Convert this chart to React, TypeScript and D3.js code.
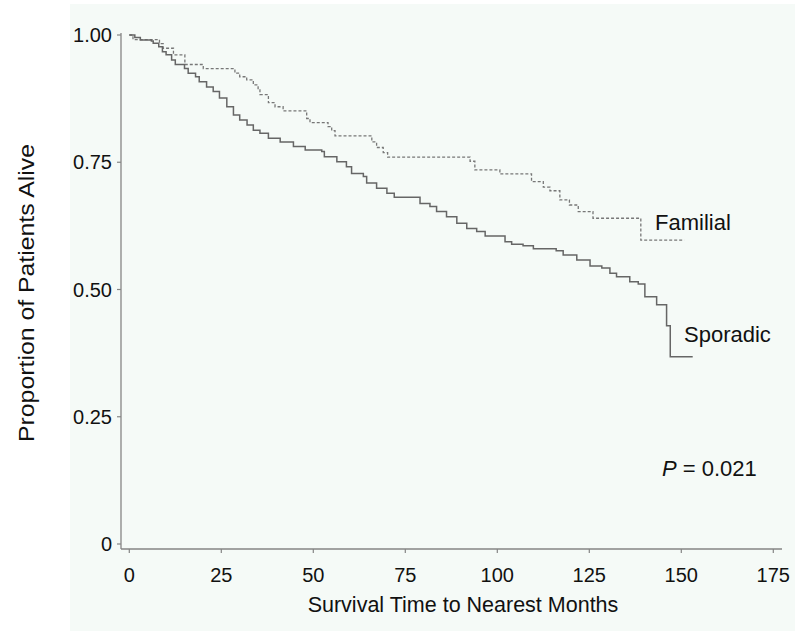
import React from "react";
import * as d3 from "d3";

// Kaplan-Meier steps (months, proportion alive)
const sporadicTimes = [0, 1.5, 3, 6, 6.5, 8, 9, 10, 11.5, 12.5, 15, 16, 18, 19, 21, 22.8, 24.5, 26.5, 28.3, 30, 32, 33.7, 35.5, 37.8, 41, 44.6, 47.8, 52.3, 53, 56.4, 59, 60.4, 63.6, 64.5, 67.2, 70, 72, 79, 81.7, 83.5, 86.2, 89, 91.7, 94.4, 96.7, 102.1, 103.9, 107, 109.8, 116, 117.9, 121.6, 125.2, 128.4, 130.6, 132.4, 136, 138.3, 140.1, 143.3, 146, 147, 153.1];
const sporadicSurv = [1.0, 0.995, 0.99, 0.988, 0.984, 0.977, 0.967, 0.961, 0.951, 0.942, 0.934, 0.925, 0.918, 0.908, 0.898, 0.889, 0.876, 0.859, 0.843, 0.833, 0.823, 0.813, 0.807, 0.797, 0.79, 0.781, 0.774, 0.771, 0.761, 0.751, 0.741, 0.728, 0.722, 0.709, 0.699, 0.689, 0.681, 0.669, 0.663, 0.653, 0.643, 0.63, 0.62, 0.614, 0.605, 0.594, 0.589, 0.586, 0.58, 0.576, 0.568, 0.558, 0.546, 0.542, 0.532, 0.525, 0.515, 0.511, 0.486, 0.47, 0.429, 0.368, 0.368];

const familialTimes = [0, 1, 8.2, 9.2, 12, 15.1, 20.1, 28.7, 30, 31.9, 33.7, 35, 35.5, 37.8, 39.6, 41.8, 48.2, 49.1, 54, 55, 55.9, 65.9, 67.2, 69, 70.2, 92.6, 93.9, 100.7, 109.3, 112.5, 114.3, 117, 119.6, 122, 126, 139, 150.8];
const familialSurv = [1.0, 0.991, 0.983, 0.974, 0.961, 0.942, 0.934, 0.925, 0.918, 0.912, 0.902, 0.892, 0.883, 0.867, 0.859, 0.851, 0.836, 0.828, 0.82, 0.812, 0.802, 0.79, 0.779, 0.769, 0.76, 0.752, 0.735, 0.727, 0.712, 0.701, 0.694, 0.676, 0.666, 0.653, 0.64, 0.597, 0.597];

const xTicks = [0, 25, 50, 75, 100, 125, 150, 175];
const yTicks = [0, 0.25, 0.5, 0.75, 1];
const yTickLabels = ["0", "0.25", "0.50", "0.75", "1.00"];

const font = "'Liberation Sans', Arial, sans-serif";
const axisColor = "#858585";

export default function App() {
  const x = d3.scaleLinear().domain([0, 175]).range([129.3, 773.3]);
  const y = d3.scaleLinear().domain([0, 1]).range([544, 35]);

  const axisX = 121;
  const axisY = 549;

  const line = d3.line<[number, number]>()
    .x(d => x(d[0]))
    .y(d => y(d[1]))
    .curve(d3.curveStepAfter);

  const sporadic = sporadicTimes.map((t, i) => [t, sporadicSurv[i]] as [number, number]);
  const familial = familialTimes.map((t, i) => [t, familialSurv[i]] as [number, number]);

  return (
    <svg width={800} height={631} style={{ position: "absolute", left: 0, top: 0 }} fontFamily={font}>
      <rect x={0} y={0} width={800} height={631} fill="#ffffff" />
      <rect x={70} y={4} width={725} height={627} fill="#f5faf7" />

      {/* axes */}
      <line x1={axisX} x2={axisX} y1={33} y2={axisY} stroke={axisColor} strokeWidth={1.3} />
      <line x1={axisX} x2={782} y1={axisY} y2={axisY} stroke={axisColor} strokeWidth={1.3} />

      {yTicks.map((v, i) => (
        <g key={"y" + v}>
          <line x1={axisX - 4} x2={axisX} y1={y(v)} y2={y(v)} stroke={axisColor} strokeWidth={1.2} />
          <text x={112} y={y(v) + 7} textAnchor="end" fontSize={20} fill="#111">{yTickLabels[i]}</text>
        </g>
      ))}
      {xTicks.map(v => (
        <g key={"x" + v}>
          <line x1={x(v)} x2={x(v)} y1={axisY} y2={axisY + 4} stroke={axisColor} strokeWidth={1.2} />
          <text x={x(v)} y={582} textAnchor="middle" fontSize={20} fill="#111">{v}</text>
        </g>
      ))}

      <text x={463} y={612} textAnchor="middle" fontSize={21.5} fill="#111">Survival Time to Nearest Months</text>
      <text transform="translate(34,293) rotate(-90)" textAnchor="middle" fontSize={22}
        textLength={298} lengthAdjust="spacingAndGlyphs" fill="#111">Proportion of Patients Alive</text>

      {/* curves */}
      <path d={line(familial) ?? ""} fill="none" stroke="#777" strokeWidth={1.3} strokeDasharray="3,2" />
      <path d={line(sporadic) ?? ""} fill="none" stroke="#666" strokeWidth={1.5} />

      <text x={655} y={230} fontSize={22} fill="#111">Familial</text>
      <text x={684} y={342} fontSize={22} fill="#111">Sporadic</text>
      <text x={662} y={476} fontSize={22} fill="#111">
        <tspan fontStyle="italic">P</tspan> = 0.021
      </text>
    </svg>
  );
}
